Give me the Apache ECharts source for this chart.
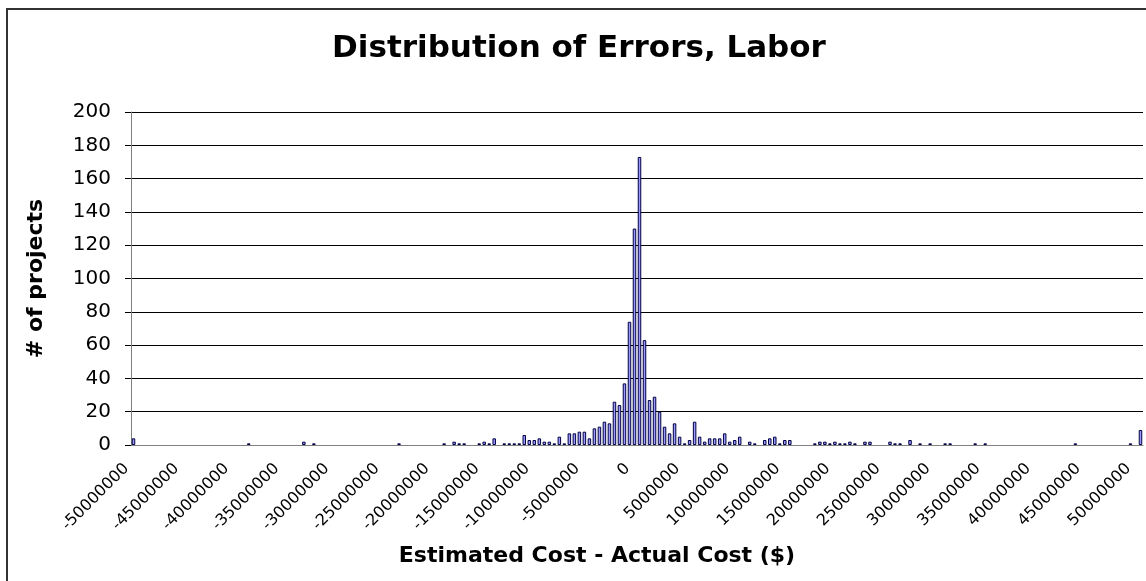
<!DOCTYPE html>
<html>
<head>
<meta charset="utf-8">
<title>Distribution of Errors, Labor</title>
<script src="https://cdn.jsdelivr.net/npm/echarts@6/dist/echarts.min.js"></script>
<style>
  html, body { margin: 0; padding: 0; background: #fff; }
  #main { width: 1146px; height: 581px; }
</style>
</head>
<body>
<div id="main"></div>
<script>
// bins of 500000 from -50000000 to 50000000, plus the overflow bin
let binStart = -50000000;
let binStep = 500000;
let binCount = 201;
let binLabels = [];
for (let i = 0; i < binCount; i++) {
  binLabels.push(String(binStart + i * binStep));
}
binLabels.push('More');

// number of projects per bin, one row = 10 bins
let projectCounts = [
  4, 0, 0, 0, 0, 0, 0, 0, 0, 0,
  0, 0, 0, 0, 0, 0, 0, 0, 0, 0,
  0, 0, 0, 1, 0, 0, 0, 0, 0, 0,
  0, 0, 0, 0, 2, 0, 1, 0, 0, 0,
  0, 0, 0, 0, 0, 0, 0, 0, 0, 0,
  0, 0, 0, 1, 0, 0, 0, 0, 0, 0,
  0, 0, 1, 0, 2, 1, 1, 0, 0, 1,
  2, 1, 4, 0, 1, 1, 1, 1, 6, 3,
  3, 4, 2, 2, 1, 5, 1, 7, 7, 8,
  8, 4, 10, 11, 14, 13, 26, 24, 37, 74,
  130, 173, 63, 27, 29, 20, 11, 7, 13, 5,
  1, 3, 14, 5, 2, 4, 4, 4, 7, 2,
  3, 5, 0, 2, 1, 0, 3, 4, 5, 1,
  3, 3, 0, 0, 0, 0, 1, 2, 2, 1,
  2, 1, 1, 2, 1, 0, 2, 2, 0, 0,
  0, 2, 1, 1, 0, 3, 0, 1, 0, 1,
  0, 0, 1, 1, 0, 0, 0, 0, 1, 0,
  1, 0, 0, 0, 0, 0, 0, 0, 0, 0,
  0, 0, 0, 0, 0, 0, 0, 0, 1, 0,
  0, 0, 0, 0, 0, 0, 0, 0, 0, 1,
  0, 9
];

let yTicks = [0, 200, 20];

let chart = echarts.init(document.getElementById('main'));
let font = 'DejaVu Sans, Verdana, sans-serif';

let option = {
  animation: false,
  backgroundColor: '#fff',
  textStyle: { fontFamily: font, color: '#000' },
  title: {
    text: 'Distribution of Errors, Labor',
    left: 579,
    textAlign: 'center',
    top: 33,
    padding: 0,
    textStyle: { fontFamily: font, fontSize: 31, fontWeight: 'bold', color: '#000' }
  },
  graphic: [{
    type: 'rect',
    shape: { x: 7, y: 9, width: 1160, height: 600 },
    style: { fill: 'none', stroke: '#333', lineWidth: 2 },
    silent: true
  }],
  grid: { left: 131, right: 3, top: 112, bottom: 136, containLabel: false },
  xAxis: {
    type: 'category',
    data: binLabels,
    boundaryGap: true,
    name: 'Estimated Cost - Actual Cost ($)',
    nameLocation: 'middle',
    nameGap: 100,
    nameTextStyle: {
      fontFamily: font, fontSize: 22, fontWeight: 'bold', color: '#000',
      padding: [0, 80, 0, 0]
    },
    axisLine: { lineStyle: { color: '#808080', width: 1 } },
    axisTick: { interval: 9, length: 4, lineStyle: { color: '#000' } },
    axisLabel: {
      interval: 9, rotate: 45, margin: 14,
      padding: [0, 10, 0, 0],
      fontFamily: font, fontSize: 16, color: '#000'
    },
    splitLine: { show: false }
  },
  yAxis: {
    type: 'value',
    min: yTicks[0],
    max: yTicks[1],
    interval: yTicks[2],
    name: '# of projects',
    nameLocation: 'middle',
    nameGap: 84,
    nameTextStyle: { fontFamily: font, fontSize: 22, fontWeight: 'bold', color: '#000' },
    axisLine: { show: true, lineStyle: { color: '#808080', width: 1 } },
    axisTick: { show: true, length: 6, lineStyle: { color: '#000' } },
    axisLabel: { margin: 20, fontFamily: font, fontSize: 20, color: '#000' },
    splitLine: { lineStyle: { color: '#000', width: 1 } }
  },
  series: [{
    type: 'bar',
    // empty bins are left out so no flat outline is drawn on the axis
    data: projectCounts.map(function (v) { return v > 0 ? v : '-'; }),
    barWidth: 3.5,
    itemStyle: { color: '#9999ff', borderColor: '#000040', borderWidth: 1 }
  }]
};

chart.setOption(option);
</script>
</body>
</html>
